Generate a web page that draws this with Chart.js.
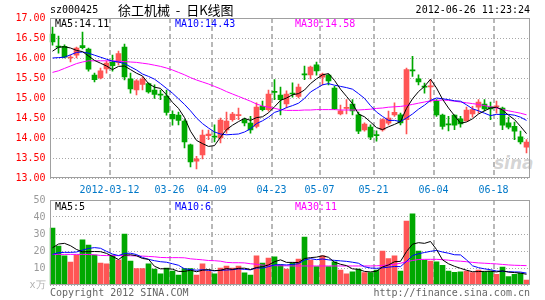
<!DOCTYPE html>
<html>
<head>
<meta charset="utf-8">
<script src="https://cdn.jsdelivr.net/npm/chart.js@4.4.1/dist/chart.umd.min.js"></script>
<style>
  body { margin: 0; background: #fff; }
  #wrap { position: relative; width: 545px; height: 300px; overflow: hidden;
          font-family: 'DejaVu Sans Mono', monospace; font-size: 10px; }
  #wrap canvas { position: absolute; left: 0; }
  .t { position: absolute; white-space: nowrap; line-height: 12px; }
</style>
</head>
<body>
<div id="wrap">
  <div class="t" style="left:494px;top:154px;font:italic bold 17px 'DejaVu Sans',sans-serif;line-height:18px;color:rgba(160,160,160,0.45)">sina</div>
  <canvas id="price" width="545" height="200" style="top:0"></canvas>
  <canvas id="vol" width="545" height="110" style="top:190px"></canvas>

  <div class="t" style="left:50px;top:4px;color:#000">sz000425</div>
  <div class="t" style="left:118px;top:2px;color:#000;font:13px 'Noto Sans CJK SC',sans-serif;line-height:16px">徐工机械&nbsp;&nbsp;-&nbsp;&nbsp;日K线图</div>
  <div class="t" style="right:15px;top:4px;color:#000">2012-06-26 11:23:24</div>

  <div class="t" style="left:55px;top:18px;color:#000">MA5:14.11</div>
  <div class="t" style="left:175px;top:18px;color:#0000ff">MA10:14.43</div>
  <div class="t" style="left:295px;top:18px;color:#ff00ff">MA30:14.58</div>

  <div class="t" style="left:55px;top:201px;color:#000">MA5:5</div>
  <div class="t" style="left:175px;top:201px;color:#0000ff">MA10:6</div>
  <div class="t" style="left:295px;top:201px;color:#ff00ff">MA30:11</div>

  <div class="t" style="left:50px;top:287px;color:#666">Copyright 2012 SINA.COM</div>
  <div class="t" style="right:15px;top:287px;color:#666">http://finance.sina.com.cn</div>
</div>

<script>
// trading days shown
const dates = [
  '2012-02-27','2012-02-28','2012-02-29','2012-03-01','2012-03-02','2012-03-05','2012-03-06','2012-03-07','2012-03-08','2012-03-09',
  '2012-03-12','2012-03-13','2012-03-14','2012-03-15','2012-03-16','2012-03-19','2012-03-20','2012-03-21','2012-03-22','2012-03-23',
  '2012-03-26','2012-03-27','2012-03-28','2012-03-29','2012-03-30','2012-04-05','2012-04-06',
  '2012-04-09','2012-04-10','2012-04-11','2012-04-12','2012-04-13','2012-04-16','2012-04-17','2012-04-18','2012-04-19','2012-04-20',
  '2012-04-23','2012-04-24','2012-04-25','2012-04-26','2012-04-27','2012-05-02','2012-05-03','2012-05-04',
  '2012-05-07','2012-05-08','2012-05-09','2012-05-10','2012-05-11','2012-05-14','2012-05-15','2012-05-16','2012-05-17',
  '2012-05-21','2012-05-22','2012-05-23','2012-05-24','2012-05-25','2012-05-28','2012-05-29','2012-05-30','2012-05-31','2012-06-01',
  '2012-06-04','2012-06-05','2012-06-06','2012-06-07','2012-06-08','2012-06-11','2012-06-12','2012-06-13','2012-06-14','2012-06-15',
  '2012-06-18','2012-06-19','2012-06-20','2012-06-21','2012-06-25','2012-06-26'
];
const tickDates = ['2012-03-12','2012-03-26','2012-04-09','2012-04-23','2012-05-07','2012-05-21','2012-06-04','2012-06-18'];
const tickText  = ['2012-03-12','03-26','04-09','04-23','05-07','05-21','06-04','06-18'];

const opens = [
  16.60,16.30,16.29,16.00,16.07,16.31,16.22,15.57,15.50,15.73,
  15.89,15.89,16.27,15.48,15.20,15.34,15.36,15.20,15.09,15.05,
  14.59,14.57,14.42,13.83,13.42,13.58,14.06,14.05,14.00,14.20,
  14.46,14.56,14.46,14.37,14.29,14.79,14.71,15.16,15.07,14.85,
  15.11,15.04,15.60,15.58,15.83,15.52,15.57,15.25,14.60,14.74,
  14.85,14.58,14.20,14.27,14.08,14.20,14.37,14.58,14.58,14.46,
  15.70,15.48,15.29,15.28,14.92,14.57,14.35,14.57,14.48,14.43,
  14.60,14.77,14.85,14.78,14.78,14.75,14.38,14.29,14.03,13.77
];
const highs = [
  16.77,16.55,16.33,16.07,16.27,16.65,16.25,15.62,15.75,15.92,
  16.07,16.17,16.35,15.62,15.46,15.52,15.38,15.33,15.20,15.20,
  14.68,14.65,14.46,13.85,13.54,14.20,14.20,14.33,14.50,14.65,
  14.64,14.75,14.50,14.54,14.88,14.92,15.20,15.46,15.27,15.18,
  15.38,15.35,15.80,15.80,15.90,15.62,15.60,15.29,14.82,14.96,
  14.96,14.65,14.38,14.33,14.18,14.48,14.67,14.88,14.62,15.75,
  16.04,15.58,15.37,15.46,14.96,14.60,14.54,14.58,14.54,14.77,
  14.79,14.96,14.96,14.90,14.92,14.77,14.52,14.40,14.17,13.96
];
const lows = [
  16.32,16.12,16.00,15.90,16.00,16.23,15.67,15.40,15.48,15.62,
  15.67,15.83,15.45,15.12,15.08,15.20,15.12,14.99,14.96,14.57,
  14.32,14.33,13.75,13.28,13.23,13.48,13.96,13.90,13.88,14.12,
  14.42,14.46,14.30,14.12,14.25,14.68,14.67,14.96,14.58,14.75,
  15.02,15.00,15.46,15.48,15.57,15.33,15.33,14.71,14.58,14.60,
  14.58,14.11,14.17,13.96,13.92,14.17,14.33,14.54,14.33,14.10,
  15.54,15.33,15.12,14.90,14.54,14.22,14.18,14.21,14.27,14.42,
  14.52,14.62,14.68,14.46,14.62,14.21,14.23,13.96,13.85,13.63
];
const closes = [
  16.40,16.27,16.02,16.02,16.25,16.26,15.72,15.46,15.68,15.87,
  15.81,16.11,15.53,15.23,15.43,15.47,15.15,15.09,15.07,14.64,
  14.48,14.44,13.90,13.40,13.48,14.07,14.10,14.02,14.45,14.42,
  14.60,14.58,14.38,14.20,14.77,14.71,15.10,15.14,14.96,15.10,
  15.10,15.27,15.58,15.77,15.68,15.60,15.43,14.73,14.68,14.76,
  14.68,14.17,14.35,14.02,14.06,14.46,14.50,14.64,14.38,15.71,
  15.68,15.40,15.27,15.30,14.58,14.29,14.33,14.32,14.35,14.70,
  14.71,14.90,14.73,14.73,14.80,14.32,14.27,14.17,13.90,13.90
];
const ma5 = [
  16.17,16.27,16.28,16.25,16.19,16.16,16.05,15.94,15.87,15.80,
  15.71,15.79,15.80,15.71,15.62,15.55,15.36,15.27,15.24,15.08,
  14.89,14.74,14.51,14.17,13.94,13.86,13.79,13.81,14.02,14.21,
  14.32,14.41,14.49,14.44,14.51,14.53,14.63,14.78,14.94,15.00,
  15.08,15.11,15.20,15.36,15.48,15.58,15.61,15.44,15.22,15.04,
  14.86,14.60,14.53,14.40,14.26,14.21,14.28,14.34,14.41,14.74,
  14.98,15.16,15.29,15.47,15.25,14.97,14.75,14.56,14.37,14.40,
  14.48,14.60,14.68,14.75,14.77,14.70,14.57,14.46,14.29,14.11
];
const ma10 = [
  16.00,16.01,16.02,16.08,16.14,16.15,16.12,16.07,16.02,15.97,
  15.92,15.90,15.86,15.78,15.70,15.60,15.54,15.47,15.36,15.24,
  15.12,14.98,14.84,14.68,14.50,14.36,14.25,14.15,14.10,14.08,
  14.09,14.10,14.15,14.23,14.36,14.43,14.52,14.64,14.69,14.76,
  14.81,14.87,14.99,15.15,15.24,15.33,15.36,15.32,15.29,15.26,
  15.22,15.11,14.99,14.81,14.65,14.54,14.44,14.44,14.41,14.50,
  14.60,14.72,14.82,14.94,15.00,14.98,14.96,14.93,14.92,14.83,
  14.73,14.68,14.62,14.56,14.59,14.59,14.59,14.57,14.52,14.44
];
const ma30 = [
  15.64,15.68,15.74,15.80,15.86,15.90,15.93,15.93,15.93,15.93,
  15.93,15.92,15.91,15.90,15.89,15.87,15.85,15.82,15.79,15.75,
  15.70,15.64,15.58,15.51,15.45,15.40,15.35,15.29,15.23,15.16,
  15.10,15.04,14.98,14.92,14.85,14.80,14.77,14.74,14.71,14.69,
  14.69,14.69,14.70,14.70,14.71,14.71,14.71,14.71,14.70,14.70,
  14.70,14.70,14.71,14.72,14.74,14.75,14.77,14.78,14.79,14.81,
  14.84,14.87,14.90,14.93,14.94,14.95,14.94,14.92,14.90,14.88,
  14.86,14.84,14.81,14.78,14.75,14.71,14.68,14.65,14.62,14.58
];

// volume, x 10k shares
const volumes = [
  33.5,22.9,17.1,13.5,17.6,26.5,23.5,17.6,12.9,12.4,
  17.6,14.7,30.0,14.1,9.6,9.6,12.4,9.4,6.5,10.0,
  8.2,5.9,9.6,9.6,5.9,12.4,8.2,6.5,10.0,11.2,
  10.0,11.2,7.1,5.9,17.1,12.9,15.9,16.5,11.8,9.4,
  13.1,15.3,28.2,14.7,10.8,17.1,10.8,13.7,8.8,6.5,
  7.8,9.4,7.3,7.3,8.8,20.0,15.5,17.1,8.2,37.6,
  41.8,20.0,14.7,14.1,13.7,11.6,8.2,7.5,7.8,8.2,
  7.3,8.8,7.8,8.2,6.3,10.6,4.9,6.3,6.9,2.9
];
const volMa5 = [
  21.9,24.1,24.5,23.1,20.9,19.5,19.6,19.7,19.6,18.6,
  16.8,15.0,17.5,17.8,17.2,15.6,15.1,11.0,9.5,9.6,
  9.3,8.0,8.0,8.7,7.8,8.7,9.1,8.5,8.6,9.7,
  9.2,9.8,9.9,9.1,10.3,10.8,11.8,13.7,14.8,13.3,
  13.3,13.2,15.6,16.1,16.4,17.2,16.3,13.4,12.2,11.4,
  9.5,9.2,8.0,7.7,8.1,10.6,11.8,13.7,13.9,19.7,
  24.0,24.9,24.5,25.6,20.9,14.8,12.5,11.0,9.8,8.7,
  7.8,7.9,8.0,8.1,7.7,8.3,7.6,7.3,7.0,6.3
];
const volMa10 = [
  18.0,19.0,19.2,19.2,19.4,20.5,21.5,22.0,21.6,19.8,
  18.2,17.3,18.6,18.7,17.9,16.2,15.1,14.3,13.7,13.4,
  12.5,11.6,9.5,9.1,8.7,9.0,8.6,8.3,8.7,8.8,
  9.0,9.5,9.2,8.9,10.0,10.0,10.8,11.8,12.0,11.8,
  12.1,12.5,14.7,15.5,14.9,15.3,14.8,14.5,14.2,13.9,
  13.4,12.8,10.7,10.0,9.8,10.1,10.5,10.9,10.8,13.9,
  17.3,18.4,19.1,19.8,20.3,19.4,18.7,17.8,17.7,14.8,
  11.3,10.2,9.5,9.0,8.2,8.1,7.8,7.7,7.6,7.0
];
const volMa30 = [
  18.0,18.0,18.0,18.0,18.0,18.0,17.9,17.8,17.4,17.3,
  17.3,17.3,17.3,17.2,17.1,17.0,16.8,16.6,16.2,16.1,
  16.1,16.1,16.0,15.4,15.1,14.8,14.4,14.3,14.0,13.3,
  13.1,13.1,13.0,12.5,12.2,11.7,11.4,11.4,11.3,11.3,
  11.2,11.2,11.2,11.2,11.2,11.2,11.2,11.2,11.2,11.2,
  11.2,11.2,11.2,11.2,11.3,11.5,11.8,12.2,12.8,13.7,
  14.4,15.0,15.1,15.1,15.1,14.9,14.6,14.2,14.0,13.7,
  13.3,13.0,12.8,12.6,12.4,12.1,11.8,11.6,11.5,11.4
];

const RED = '#ff5555';
const GREEN = '#00a800';
const GRID = '#a8a8a8';
const MONO = "'DejaVu Sans Mono', monospace";

const barColors = closes.map((c, i) => c >= opens[i] ? RED : GREEN);
const isMark = i => tickDates.includes(dates[i]);

const frame = {
  id: 'frame',
  afterDraw(chart) {
    const { ctx, chartArea: a } = chart;
    ctx.save();
    ctx.strokeStyle = '#a0a0a0';
    ctx.lineWidth = 1;
    const x0 = Math.round(a.left) + 0.5, y0 = Math.round(a.top) + 0.5;
    const x1 = Math.round(a.right) - 0.5, y1 = Math.round(a.bottom) - 0.5;
    ctx.strokeRect(x0, y0, x1 - x0, y1 - y0);
    ctx.restore();
  }
};

function maLine(data, color) {
  return {
    type: 'line', data, borderColor: color, borderWidth: 1,
    pointRadius: 0, tension: 0, fill: false, order: 0
  };
}

function xScale(showTicks) {
  return {
    offset: true,
    grid: {
      offset: true,
      drawTicks: false,
      lineWidth: 2,
      color: ctx => isMark(ctx.index) ? '#b8b8b8' : 'transparent'
    },
    border: { display: false, dash: [5, 3] },
    ticks: {
      display: showTicks,
      autoSkip: false,
      maxRotation: 0,
      minRotation: 0,
      padding: 6,
      labelOffset: -3,
      color: '#0078c8',
      font: { family: MONO, size: 10 },
      callback: (v, i) => {
        const k = tickDates.indexOf(dates[i]);
        return k >= 0 ? tickText[k] : '';
      }
    },
    afterFit: s => { s.height = showTicks ? 22 : 0; }
  };
}

// price chart
new Chart(document.getElementById('price'), {
  type: 'bar',
  data: {
    labels: dates,
    datasets: [
      maLine(ma5, '#000000'),
      maLine(ma10, '#0000ff'),
      maLine(ma30, '#ff00ff'),
      {
        data: opens.map((o, i) => [o, closes[i]]),
        backgroundColor: barColors,
        barThickness: 5,
        minBarLength: 1,
        grouped: false,
        order: 1
      },
      {
        data: lows.map((l, i) => [l, highs[i]]),
        backgroundColor: barColors,
        barThickness: 1,
        grouped: false,
        order: 2
      }
    ]
  },
  options: {
    responsive: false,
    animation: false,
    layout: { padding: { top: 18, right: 15.5, left: 0, bottom: 0 } },
    plugins: { legend: { display: false }, tooltip: { enabled: false } },
    scales: {
      x: xScale(true),
      y: {
        min: 13,
        max: 17,
        ticks: {
          stepSize: 0.5,
          padding: 4,
          color: '#ff0000',
          font: { family: MONO, size: 10 },
          callback: v => Number(v).toFixed(2)
        },
        grid: { color: GRID, drawTicks: false },
        border: { display: false, dash: [1, 2] },
        afterFit: s => { s.width = 49.5; }
      }
    }
  },
  plugins: [frame]
});

// volume chart
new Chart(document.getElementById('vol'), {
  type: 'bar',
  data: {
    labels: dates,
    datasets: [
      maLine(volMa5, '#000000'),
      maLine(volMa10, '#0000ff'),
      maLine(volMa30, '#ff00ff'),
      {
        data: volumes,
        backgroundColor: barColors,
        barThickness: 5,
        grouped: false,
        order: 1
      }
    ]
  },
  options: {
    responsive: false,
    animation: false,
    layout: { padding: { top: 10, right: 15.5, left: 0, bottom: 15 } },
    plugins: { legend: { display: false }, tooltip: { enabled: false } },
    scales: {
      x: xScale(false),
      y: {
        min: 0,
        max: 50,
        ticks: {
          stepSize: 10,
          padding: 4,
          color: ctx => ctx.tick && ctx.tick.value === 0 ? '#b0b0b0' : '#999999',
          font: { family: MONO, size: 10 },
          callback: v => v === 0 ? 'x万' : String(v)
        },
        grid: { color: GRID, drawTicks: false },
        border: { display: false, dash: [1, 2] },
        afterFit: s => { s.width = 49.5; }
      }
    }
  },
  plugins: [frame]
});
</script>
</body>
</html>
